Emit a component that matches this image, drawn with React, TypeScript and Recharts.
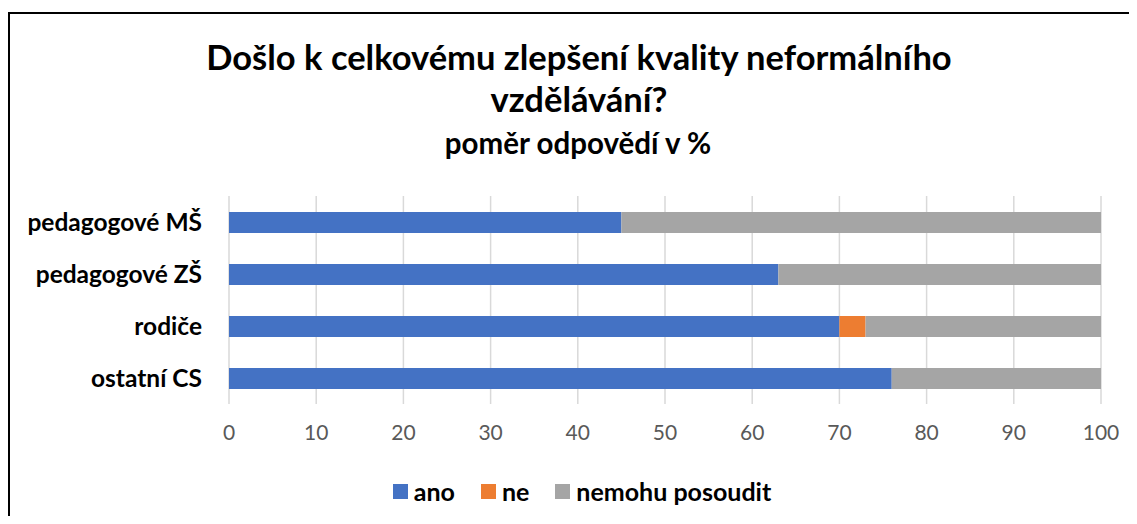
import React from "react";
import { BarChart, Bar, XAxis, YAxis, CartesianGrid } from "recharts";

const categories = ["pedagogové MŠ", "pedagogové ZŠ", "rodiče", "ostatní CS"];
const ano = [45, 63, 70, 76];
const ne = [0, 0, 3, 0];
const nemohu = [55, 37, 27, 24];
const xTicks = [0, 10, 20, 30, 40, 50, 60, 70, 80, 90, 100];
const seriesNames = ["ano", "ne", "nemohu posoudit"];
const seriesKeys = ["ano", "ne", "nemohu"];
const seriesColors = ["#4472C4", "#ED7D31", "#A5A5A5"];
const titleLine1 = "Došlo k celkovému zlepšení kvality neformálního";
const titleLine2 = "vzdělávání?";
const subtitle = "poměr odpovědí v %";

const data = categories.map((name, i) => ({
  name,
  ano: ano[i],
  ne: ne[i],
  nemohu: nemohu[i],
}));

const FONT = "Lato, 'Open Sans', sans-serif";
const W = 1121;
const H = 508;

export default function App() {
  return (
    <div style={{ position: "relative", width: W, height: H, fontFamily: FONT }}>
      <svg width={W} height={H} style={{ position: "absolute", left: 0, top: 0 }}>
        <line x1={1} y1={4} x2={1} y2={H} stroke="#000" strokeWidth={2} />
        <line x1={0} y1={5} x2={W} y2={5} stroke="#000" strokeWidth={2} />
        <text x={571} y={62} textAnchor="middle" fontFamily={FONT} fontWeight={700} fontSize={34.5} fill="#000">
          {titleLine1}
        </text>
        <text x={571} y={104} textAnchor="middle" fontFamily={FONT} fontWeight={700} fontSize={34.5} fill="#000">
          {titleLine2}
        </text>
        <text x={570} y={146} textAnchor="middle" fontFamily={FONT} fontWeight={700} fontSize={29.5} fill="#000">
          {subtitle}
        </text>
      </svg>
      <div style={{ position: "absolute", left: 0, top: 0 }}>
        <BarChart
          width={W}
          height={H}
          data={data}
          layout="vertical"
          margin={{ top: 188, right: 28, bottom: 72, left: 0 }}
        >
          <CartesianGrid horizontal={false} vertical={true} stroke="#d9d9d9" strokeWidth={1.5} />
          <XAxis
            type="number"
            domain={[0, 100]}
            ticks={xTicks}
            axisLine={false}
            tickLine={false}
            tickSize={0}
            tickMargin={21}
            height={40}
            interval={0}
            tick={{ fill: "#595959", fontSize: 21, fontFamily: FONT }}
          />
          <YAxis
            type="category"
            dataKey="name"
            width={221}
            axisLine={false}
            tickLine={false}
            tickSize={0}
            tickMargin={27}
            tick={{ fill: "#000", fontSize: 24.5, fontWeight: 700, fontFamily: FONT }}
          />
          {seriesKeys.map((k, i) => (
            <Bar
              key={k}
              dataKey={k}
              name={seriesNames[i]}
              stackId="s"
              fill={seriesColors[i]}
              barSize={21}
              isAnimationActive={false}
            />
          ))}
        </BarChart>
      </div>
      <div
        style={{
          position: "absolute",
          left: 0,
          width: W,
          paddingLeft: 27,
          boxSizing: "border-box",
          top: 472,
          height: 22,
          display: "flex",
          justifyContent: "center",
          alignItems: "center",
          gap: 26,
        }}
      >
        {seriesNames.map((n, i) => (
          <div key={n} style={{ display: "flex", alignItems: "center", gap: 6 }}>
            <div style={{ width: 15, height: 15, background: seriesColors[i] }} />
            <span style={{ fontFamily: FONT, fontWeight: 700, fontSize: 25, color: "#000", lineHeight: "22px" }}>
              {n}
            </span>
          </div>
        ))}
      </div>
    </div>
  );
}
